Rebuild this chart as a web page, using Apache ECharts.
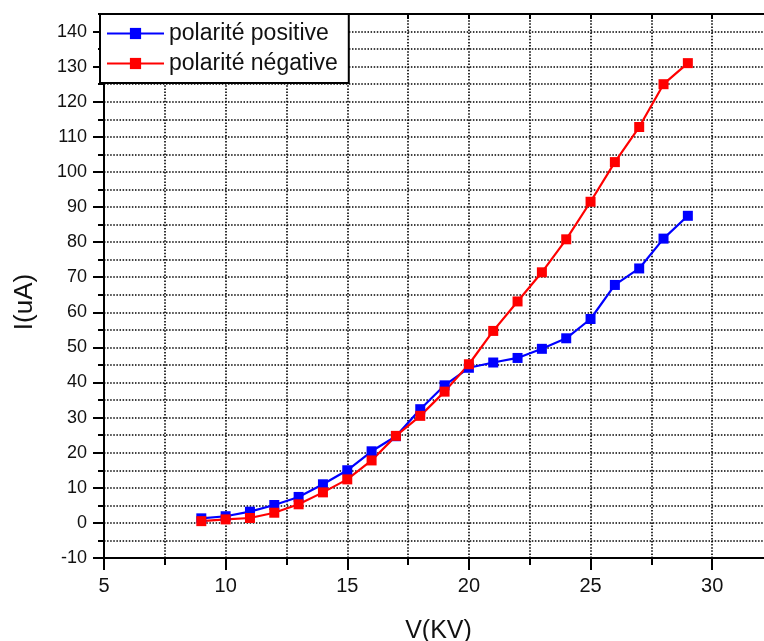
<!DOCTYPE html>
<html>
<head>
<meta charset="utf-8">
<script src="https://cdn.jsdelivr.net/npm/echarts@6/dist/echarts.min.js"></script>
<style>
  html, body { margin: 0; padding: 0; background: #fff; }
  #chart { width: 764px; height: 641px; }
</style>
</head>
<body>
<div id="chart"></div>
<script>
// tension V(KV)
var voltages = [9, 10, 11, 12, 13, 14, 15, 16, 17, 18, 19, 20, 21, 22, 23, 24, 25, 26, 27, 28, 29];
// courant I(uA)
var positive = [1.3, 1.9, 3.2, 5.1, 7.4, 11.0, 15.0, 20.4, 24.7, 32.4, 39.2, 44.2, 45.7, 47.0, 49.6, 52.6, 58.1, 67.8, 72.5, 81.0, 87.5];
var negative = [0.5, 1.0, 1.4, 2.9, 5.3, 8.7, 12.4, 17.8, 24.8, 30.5, 37.4, 45.2, 54.7, 63.1, 71.4, 80.8, 91.5, 102.8, 112.8, 125.0, 131.0];

var font = 'Liberation Sans, Arial, sans-serif';
var dotted = { color: '#000', width: 1.6, type: [1.5, 1.6] };

function pairs(ys) {
  return voltages.map(function (v, i) { return [v, ys[i]]; });
}

var chart = echarts.init(document.getElementById('chart'));
chart.setOption({
  animation: false,
  // le cadre déborde à droite (image rognée)
  grid: { left: 104, top: 14, width: 669, bottom: 83, outerBoundsMode: 'none', containLabel: false },
  legend: {
    left: 100, top: 14,
    orient: 'vertical',
    backgroundColor: '#fff',
    borderColor: '#000',
    borderWidth: 2,
    borderRadius: 0,
    padding: [8, 11, 8, 6],
    itemGap: 7,
    itemWidth: 57,
    itemHeight: 14,
    textStyle: { fontFamily: font, fontSize: 23, color: '#111' },
    data: ['polarité positive', 'polarité négative']
  },
  xAxis: [
    {
      // axe principal avec graduations
      type: 'value', position: 'bottom', min: 5, max: 32.5, interval: 5,
      name: 'V(KV)', nameLocation: 'middle', nameGap: 61,
      nameTextStyle: { fontFamily: font, fontSize: 25, color: '#111' },
      axisLine: { show: true, onZero: false, lineStyle: { color: '#000', width: 2 } },
      axisTick: { show: true, length: 12, lineStyle: { color: '#000', width: 2 } },
      axisLabel: {
        fontFamily: font, fontSize: 20, color: '#111', margin: 18, showMaxLabel: false,
        formatter: function (v) { return v % 5 === 0 ? v : ''; }
      },
      splitLine: { show: false }
    },
    {
      // grille pointillée tous les 2.5
      type: 'value', position: 'bottom', min: 5, max: 32.5, interval: 2.5,
      axisLine: { show: false, onZero: false },
      axisTick: { show: true, length: 7, lineStyle: { color: '#000', width: 2 } },
      axisLabel: { show: false },
      splitLine: { show: true, lineStyle: dotted }
    },
    {
      // bord du haut
      type: 'value', position: 'top', min: 5, max: 32.5, interval: 2.5,
      axisLine: { show: true, onZero: false, lineStyle: { color: '#000', width: 2 } },
      axisTick: { show: true, inside: true, length: 5, lineStyle: { color: '#000', width: 2 } },
      axisLabel: { show: false },
      splitLine: { show: false }
    }
  ],
  yAxis: [
    {
      type: 'value', position: 'left', min: -10, max: 145, interval: 10,
      name: 'I(uA)', nameLocation: 'middle', nameGap: 66, nameRotate: 90,
      nameTextStyle: { fontFamily: font, fontSize: 26, color: '#111', padding: [0, 32, 0, 0] },
      axisLine: { show: true, onZero: false, lineStyle: { color: '#000', width: 2 } },
      axisTick: { show: true, length: 11, lineStyle: { color: '#000', width: 2 } },
      axisLabel: {
        fontFamily: font, fontSize: 18, color: '#111', margin: 17, showMaxLabel: false,
        formatter: function (v) { return v % 10 === 0 ? v : ''; }
      },
      splitLine: { show: false }
    },
    {
      type: 'value', position: 'left', min: -10, max: 145, interval: 5,
      axisLine: { show: false, onZero: false },
      axisTick: { show: true, length: 6, lineStyle: { color: '#000', width: 2 } },
      axisLabel: { show: false },
      splitLine: { show: true, lineStyle: dotted }
    }
  ],
  series: [
    {
      name: 'polarité positive', type: 'line',
      data: pairs(positive),
      symbol: 'rect', symbolSize: 10,
      color: '#0000ff',
      lineStyle: { width: 2.2, color: '#0000ff' },
      itemStyle: { color: '#0000ff' }
    },
    {
      name: 'polarité négative', type: 'line',
      data: pairs(negative),
      symbol: 'rect', symbolSize: 10,
      color: '#ff0000',
      lineStyle: { width: 2.2, color: '#ff0000' },
      itemStyle: { color: '#ff0000' }
    }
  ]
});
</script>
</body>
</html>
